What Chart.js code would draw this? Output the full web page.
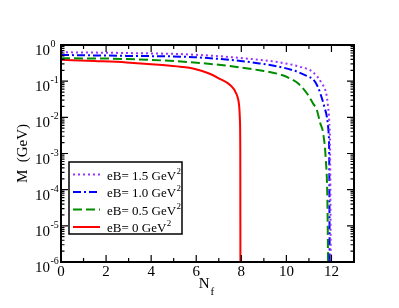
<!DOCTYPE html>
<html>
<head>
<meta charset="utf-8">
<script src="https://cdn.jsdelivr.net/npm/chart.js@4.4.1/dist/chart.umd.min.js"></script>
<style>
  html, body { margin: 0; padding: 0; background: #fff; }
</style>
</head>
<body>
<canvas id="massChart" width="399" height="308"></canvas>
<script>
// N_f values and dynamical mass M (GeV) for each magnetic field
var nf15 = [0, 2.9, 5.9, 8.8, 9.7, 10.3, 10.6, 11.17, 11.56, 11.78, 11.84, 11.9, 11.94, 11.97];
var m15  = [0.63, 0.6, 0.54, 0.39, 0.33, 0.28, 0.25, 0.18, 0.089, 0.042, 0.022, 0.008, 0.001, 1e-6];

var nf10 = [0, 2.9, 5.9, 8.8, 10.3, 10.9, 11.2, 11.4, 11.6, 11.7, 11.8, 11.87, 11.9, 11.92];
var m10  = [0.53, 0.5, 0.46, 0.31, 0.2, 0.14, 0.11, 0.069, 0.03, 0.018, 0.01, 0.004, 0.001, 1e-6];

var nf05 = [0, 2.9, 5.9, 7.3, 8.8, 9.8, 10.3, 10.5, 10.9, 11.17, 11.35, 11.5, 11.63, 11.75, 11.82, 11.85];
var m05  = [0.43, 0.41, 0.33, 0.27, 0.2, 0.148, 0.107, 0.089, 0.047, 0.025, 0.016, 0.007, 0.0037, 0.00066, 0.00005, 1e-6];

var nf00 = [0, 1.5, 2.9, 4.5, 5.3, 5.9, 6.6, 7, 7.5, 7.8, 7.9, 7.94, 7.955, 7.96];
var m00  = [0.39, 0.36, 0.33, 0.28, 0.25, 0.22, 0.16, 0.12, 0.078, 0.042, 0.022, 0.008, 0.001, 1e-6];

var eBLabels = ['1.5', '1.0', '0.5', '0'];
var xTicks = [0, 2, 4, 6, 8, 10, 12];
var yExps = [0, -1, -2, -3, -4, -5, -6];

function pts(xs, ys) {
    return xs.map(function(v, i) { return {x: v, y: ys[i]}; });
}

var serif = "'Liberation Serif', 'DejaVu Serif', serif";

var decor = {
    id: 'decor',
    afterDatasetsDraw: function(chart) {
        var ctx = chart.ctx, a = chart.chartArea;
        var xs = chart.scales.x, ys = chart.scales.y;
        ctx.save();
        ctx.strokeStyle = '#000';
        ctx.lineWidth = 1.2;
        ctx.beginPath();
        // x ticks, inward, bottom and top
        for (var n = 0; n <= 13; n++) {
            var px = xs.getPixelForValue(n);
            var len = n % 2 ? 4 : 7;
            ctx.moveTo(px, a.bottom); ctx.lineTo(px, a.bottom - len);
            ctx.moveTo(px, a.top); ctx.lineTo(px, a.top + len);
        }
        // y ticks, log minors
        for (var e = -6; e <= 0; e++) {
            for (var k = 1; k <= 9; k++) {
                var v = k * Math.pow(10, e);
                if (v > 1.0001) break;
                var py = ys.getPixelForValue(v);
                var l = k === 1 ? 7 : 3.5;
                ctx.moveTo(a.left, py); ctx.lineTo(a.left + l, py);
                ctx.moveTo(a.right, py); ctx.lineTo(a.right - l, py);
            }
        }
        ctx.stroke();
        ctx.lineWidth = 2;
        ctx.strokeRect(a.left, a.top, a.right - a.left, a.bottom - a.top);

        ctx.fillStyle = '#000';
        // x tick labels
        ctx.font = '15px ' + serif;
        ctx.textAlign = 'center';
        ctx.textBaseline = 'alphabetic';
        xTicks.forEach(function(t) {
            ctx.fillText(String(t), xs.getPixelForValue(t), a.bottom + 14);
        });

        // y tick labels 10^n
        yExps.forEach(function(ex) {
            var py = ys.getPixelForValue(Math.pow(10, ex));
            ctx.font = '15px ' + serif;
            ctx.textAlign = 'right';
            ctx.textBaseline = 'alphabetic';
            ctx.fillText('10', a.left - 11, py + 10);
            ctx.font = '10px ' + serif;
            ctx.textAlign = 'left';
            ctx.fillText(String(ex), a.left - 10.5, py + 2);
        });

        // axis titles
        ctx.save();
        ctx.translate(23, (a.top + a.bottom) / 2);
        ctx.rotate(-Math.PI / 2);
        ctx.font = '15px ' + serif;
        ctx.textAlign = 'center';
        ctx.textBaseline = 'middle';
        ctx.fillText('M  (GeV)', 0, 0);
        ctx.restore();

        var cx = (a.left + a.right) / 2;
        ctx.font = '15px ' + serif;
        ctx.textAlign = 'right';
        ctx.textBaseline = 'alphabetic';
        ctx.fillText('N', cx + 2, 288);
        ctx.font = '11px ' + serif;
        ctx.textAlign = 'left';
        ctx.fillText('f', cx + 3, 295);

        // legend box
        var bx = a.left + 8, by = a.top + 117, bw = 113, bh = 72;
        ctx.fillStyle = '#fff';
        ctx.fillRect(bx, by, bw, bh);
        ctx.lineWidth = 1.5;
        ctx.strokeStyle = '#000';
        ctx.strokeRect(bx, by, bw, bh);
        chart.data.datasets.forEach(function(ds, i) {
            var ly = by + 12.5 + i * 17.5;
            ctx.save();
            ctx.strokeStyle = ds.borderColor;
            ctx.lineWidth = ds.borderWidth;
            ctx.setLineDash(ds.borderDash || []);
            ctx.beginPath();
            ctx.moveTo(bx + 4, ly);
            ctx.lineTo(bx + 31, ly);
            ctx.stroke();
            ctx.restore();
            ctx.fillStyle = '#000';
            ctx.font = '13px ' + serif;
            ctx.textAlign = 'left';
            ctx.textBaseline = 'alphabetic';
            var txt = 'eB= ' + eBLabels[i] + ' GeV';
            ctx.fillText(txt, bx + 38, ly + 5);
            var w = ctx.measureText(txt).width;
            ctx.font = '9px ' + serif;
            ctx.fillText('2', bx + 38 + w + 0.5, ly - 1);
        });
        ctx.restore();
    }
};

var ctx = document.getElementById('massChart').getContext('2d');
var config = {
    type: 'line',
    data: {
        datasets: [{
            label: 'eB= 1.5 GeV2',
            data: pts(nf15, m15),
            borderColor: '#9933ff',
            borderWidth: 2,
            borderDash: [2, 3]
        }, {
            label: 'eB= 1.0 GeV2',
            data: pts(nf10, m10),
            borderColor: '#0000ff',
            borderWidth: 2,
            borderDash: [8, 3, 2, 3]
        }, {
            label: 'eB= 0.5 GeV2',
            data: pts(nf05, m05),
            borderColor: '#008c00',
            borderWidth: 2,
            borderDash: [9, 4]
        }, {
            label: 'eB= 0 GeV2',
            data: pts(nf00, m00),
            borderColor: '#ff0000',
            borderWidth: 2
        }]
    },
    options: {
        responsive: false,
        animation: false,
        layout: { padding: { top: 45, right: 45, left: 0, bottom: 0 } },
        elements: {
            point: { radius: 0 },
            line: { cubicInterpolationMode: 'monotone', fill: false }
        },
        plugins: { legend: { display: false }, tooltip: { enabled: false } },
        scales: {
            x: {
                type: 'linear',
                min: 0,
                max: 13,
                grid: { display: false },
                border: { display: false },
                ticks: { display: false },
                afterFit: function(scale) { scale.height = 46; }
            },
            y: {
                type: 'logarithmic',
                min: 1e-6,
                max: 1,
                grid: { display: false },
                border: { display: false },
                ticks: { display: false },
                afterFit: function(scale) { scale.width = 61; }
            }
        }
    },
    plugins: [decor]
};

var chart = new Chart(ctx, config);
</script>
</body>
</html>
